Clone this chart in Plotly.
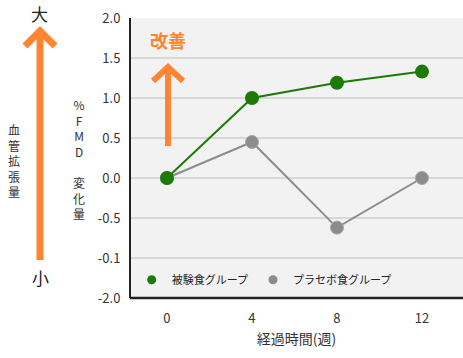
import plotly.graph_objects as go

weeks = [0, 4, 8, 12]
test_group = [0.0, 1.0, 1.19, 1.33]
placebo_group = [0.0, 0.45, -0.62, 0.0]
tick_vals = [2.0, 1.5, 1.0, 0.5, 0.0, -0.5, -1.0, -1.5]
tick_text = ["2.0", "1.5", "1.0", "0.5", "0.0", "-0.5", "-0.1", "-2.0"]
x_ticks = [0, 4, 8, 12]

GREEN = "#1d7a06"
GRAY = "#8c8c8c"
ORANGE = "#ff8533"
FONT = "Noto Sans CJK JP"

fig = go.Figure()
fig.add_trace(go.Scatter(x=weeks, y=placebo_group, mode="lines+markers",
                         line=dict(color=GRAY, width=2),
                         marker=dict(color=GRAY, size=13, line=dict(color="#a8a8a8", width=1)),
                         showlegend=False))
fig.add_trace(go.Scatter(x=weeks, y=test_group, mode="lines+markers",
                         line=dict(color=GREEN, width=2),
                         marker=dict(color=GREEN, size=14),
                         showlegend=False))
fig.add_trace(go.Scatter(x=[None], y=[None], mode="markers", name="被験食グループ",
                         marker=dict(color=GREEN, size=9)))
fig.add_trace(go.Scatter(x=[None], y=[None], mode="markers", name="プラセボ食グループ",
                         marker=dict(color=GRAY, size=9)))

W, H = 463, 358
L, R, T, B = 130, 0, 18, 60
pw, ph = W - L - R, H - T - B

def px(x):
    return (x - L) / pw

def py(y):
    return (H - B - y) / ph

shapes = []
for v in tick_vals[1:-1]:
    shapes.append(dict(type="line", xref="paper", yref="y", x0=0, x1=1, y0=v, y1=v,
                       line=dict(color="#bdbdbd", width=1), layer="below"))
shapes.append(dict(type="path", xref="paper", yref="paper",
                   path=f"M {px(40)},{py(260)} L {px(40)},{py(31)}",
                   line=dict(color=ORANGE, width=7)))
shapes.append(dict(type="path", xref="paper", yref="paper",
                   path=f"M {px(25)},{py(46)} L {px(40)},{py(31)} L {px(55)},{py(46)}",
                   line=dict(color=ORANGE, width=7)))
shapes.append(dict(type="path", xref="paper", yref="paper",
                   path=f"M {px(168)},{py(146)} L {px(168)},{py(67)}",
                   line=dict(color=ORANGE, width=6)))
shapes.append(dict(type="path", xref="paper", yref="paper",
                   path=f"M {px(153)},{py(81)} L {px(168)},{py(67)} L {px(183)},{py(81)}",
                   line=dict(color=ORANGE, width=6)))
shapes.append(dict(type="line", xref="paper", yref="paper", x0=0, x1=0, y0=0, y1=1,
                   line=dict(color="#222222", width=2)))
shapes.append(dict(type="line", xref="paper", yref="paper", x0=0, x1=1, y0=0, y1=0,
                   line=dict(color="#222222", width=2.5)))

annotations = [
    dict(text="大", x=px(39), y=py(13), font=dict(size=17, color="#222", family=FONT)),
    dict(text="小", x=px(40), y=py(277), font=dict(size=17, color="#222", family=FONT)),
    dict(text="改善", x=px(168), y=py(40), font=dict(size=18, color=ORANGE, family=FONT, weight="bold")),
    dict(text="<br>".join("血管拡張量"), x=px(14), y=py(160),
         font=dict(size=12, color="#333", family=FONT)),
    dict(text="%<br>F<br>M<br>D<br> <br>変<br>化<br>量", x=px(79), y=py(159),
         font=dict(size=12, color="#333", family=FONT)),
]
for a in annotations:
    a.update(xref="paper", yref="paper", showarrow=False, xanchor="center", yanchor="middle")

fig.update_layout(
    width=W, height=H,
    margin=dict(l=L, r=R, t=T, b=B),
    paper_bgcolor="white", plot_bgcolor="#f2f2f2",
    font=dict(family=FONT, color="#333", size=13),
    shapes=shapes, annotations=annotations,
    legend=dict(x=0.005, y=0.065, xanchor="left", yanchor="middle", orientation="h",
                bgcolor="rgba(0,0,0,0)", font=dict(size=11, color="#222"),
                itemwidth=30, tracegroupgap=0),
    xaxis=dict(range=[-1.74, 13.93], tickvals=x_ticks, ticktext=[str(v) for v in x_ticks],
               showgrid=False, zeroline=False, showline=False,
               ticks="outside", ticklen=8, tickcolor="rgba(0,0,0,0)",
               tickfont=dict(size=13, color="#333"),
               title=dict(text="経過時間(週)", font=dict(size=14, color="#333"), standoff=8)),
    yaxis=dict(range=[-1.5, 2.0], tickvals=tick_vals, ticktext=tick_text,
               showgrid=False, zeroline=False, showline=False,
               ticks="outside", ticklen=6, tickcolor="rgba(0,0,0,0)",
               tickfont=dict(size=13, color="#333")),
)

fig.write_html("out.html", post_script="document.body.style.margin='0';",
               config={"displayModeBar": False})
